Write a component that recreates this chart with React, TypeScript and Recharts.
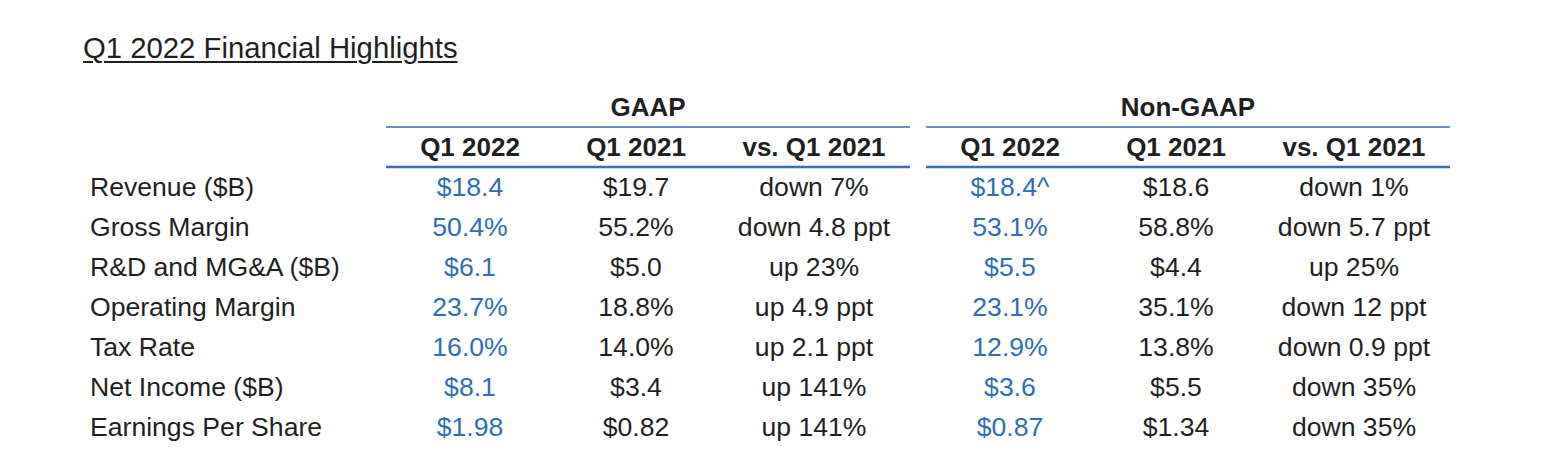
import { ScatterChart, Scatter, XAxis, YAxis, ReferenceLine } from 'recharts';

// row labels + column headers
const metrics = [
  'Revenue ($B)',
  'Gross Margin',
  'R&D and MG&A ($B)',
  'Operating Margin',
  'Tax Rate',
  'Net Income ($B)',
  'Earnings Per Share',
];
const groups = ['GAAP', 'Non-GAAP'];
const periods = ['Q1 2022', 'Q1 2021', 'vs. Q1 2021'];

// values, one array per column
const gaapQ12022 = ['$18.4', '50.4%', '$6.1', '23.7%', '16.0%', '$8.1', '$1.98'];
const gaapQ12021 = ['$19.7', '55.2%', '$5.0', '18.8%', '14.0%', '$3.4', '$0.82'];
const gaapChange = ['down 7%', 'down 4.8 ppt', 'up 23%', 'up 4.9 ppt', 'up 2.1 ppt', 'up 141%', 'up 141%'];
const nonGaapQ12022 = ['$18.4^', '53.1%', '$5.5', '23.1%', '12.9%', '$3.6', '$0.87'];
const nonGaapQ12021 = ['$18.6', '58.8%', '$4.4', '35.1%', '13.8%', '$5.5', '$1.34'];
const nonGaapChange = ['down 1%', 'down 5.7 ppt', 'up 25%', 'down 12 ppt', 'down 0.9 ppt', 'down 35%', 'down 35%'];

const columns = [gaapQ12022, gaapQ12021, gaapChange, nonGaapQ12022, nonGaapQ12021, nonGaapChange];

const FONT = '"Liberation Sans", Arial, sans-serif';
const DARK = '#1f1f1f';
const BLUE = '#2f6db6';
const LINE = '#3a6eb5';

// table layout: column widths inside a group, gap between groups
const COL_W = [168, 164, 192];
const GROUP_GAP = 16;
const GROUP_W = COL_W.reduce((a, b) => a + b, 0);
const TABLE_W = groups.length * GROUP_W + (groups.length - 1) * GROUP_GAP;
const LABEL_W = 296;

const groupStart = (g: number) => g * (GROUP_W + GROUP_GAP);
const colCenter = (c: number) => {
  const g = Math.floor(c / periods.length);
  const p = c % periods.length;
  return groupStart(g) + COL_W.slice(0, p).reduce((a, b) => a + b, 0) + COL_W[p] / 2;
};

// rows: -2 = group header, -1 = period header, 0..6 = metrics
const cells = columns.flatMap((col, c) =>
  col.map((text, r) => ({ x: colCenter(c), r, text, current: c % periods.length === 0 }))
);
const periodCells = groups.flatMap((_, g) =>
  periods.map((text, p) => ({ x: colCenter(g * periods.length + p), r: -1, text }))
);
const groupCells = groups.map((text, g) => ({ x: groupStart(g) + GROUP_W / 2, r: -2, text }));

const cellText = (bold: boolean, blueWhenCurrent: boolean) => (props: any) => {
  const { cx, cy, payload } = props;
  return (
    <text
      x={cx}
      y={cy}
      dy="0.355em"
      textAnchor="middle"
      fontFamily={FONT}
      fontSize={bold ? 26 : 26.6}
      fontWeight={bold ? 700 : 400}
      fill={blueWhenCurrent && payload.current ? BLUE : DARK}
    >
      {payload.text}
    </text>
  );
};

const MetricTick = (props: any) => {
  const { x, y, payload } = props;
  return (
    <text x={x - LABEL_W} y={y} dy="0.355em" textAnchor="start" fontFamily={FONT} fontSize={26.6} fill={DARK}>
      {metrics[payload.value]}
    </text>
  );
};

export default function App() {
  return (
    <div style={{ position: 'absolute', left: 0, top: 0, width: 1558, height: 472, background: '#fff' }}>
      <div
        style={{
          position: 'absolute',
          left: 83,
          top: 33,
          fontFamily: FONT,
          fontSize: 29.3,
          lineHeight: '29px',
          color: DARK,
          textDecoration: 'underline',
          textDecorationThickness: '2px',
          textUnderlineOffset: '3px',
          whiteSpace: 'nowrap',
        }}
      >
        Q1 2022 Financial Highlights
      </div>
      <ScatterChart width={1558} height={472} margin={{ top: 87, right: 1558 - 90 - LABEL_W - TABLE_W, bottom: 25, left: 90 }}>
        <XAxis type="number" dataKey="x" domain={[0, TABLE_W]} hide allowDataOverflow />
        <YAxis
          type="number"
          dataKey="r"
          domain={[-2.5, 6.5]}
          reversed
          allowDataOverflow
          ticks={metrics.map((_, i) => i)}
          interval={0}
          tick={<MetricTick />}
          axisLine={false}
          tickLine={false}
          tickSize={0}
          tickMargin={0}
          width={LABEL_W}
        />
        {groups.map((g, gi) => (
          <ReferenceLine
            key={'g' + g}
            segment={[
              { x: groupStart(gi), y: -1.5 },
              { x: groupStart(gi) + GROUP_W, y: -1.5 },
            ]}
            stroke={LINE}
            strokeWidth={1.5}
            ifOverflow="visible"
          />
        ))}
        {groups.map((g, gi) => (
          <ReferenceLine
            key={'p' + g}
            segment={[
              { x: groupStart(gi), y: -0.5 },
              { x: groupStart(gi) + GROUP_W, y: -0.5 },
            ]}
            stroke={LINE}
            strokeWidth={2.5}
            ifOverflow="visible"
          />
        ))}
        <Scatter data={groupCells} shape={cellText(true, false)} isAnimationActive={false} />
        <Scatter data={periodCells} shape={cellText(true, false)} isAnimationActive={false} />
        <Scatter data={cells} shape={cellText(false, true)} isAnimationActive={false} />
      </ScatterChart>
    </div>
  );
}
